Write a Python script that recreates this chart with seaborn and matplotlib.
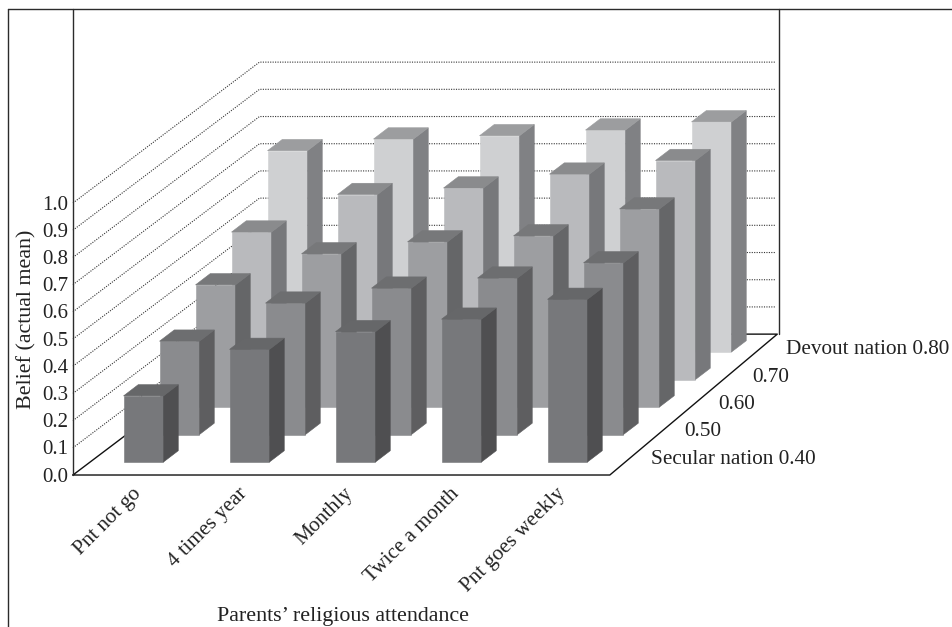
import matplotlib
matplotlib.use("Agg")
import matplotlib.pyplot as plt
import pandas as pd
import seaborn as sns
from matplotlib.patches import Polygon
from matplotlib.transforms import Affine2D

attendance = ["Pnt not go", "4 times year", "Monthly", "Twice a month", "Pnt goes weekly"]
nation_labels = ["Secular nation 0.40", "0.50", "0.60", "0.70", "Devout nation 0.80"]
axis_ticks = [0.0, 0.1, 0.2, 0.3, 0.4, 0.5, 0.6, 0.7, 0.8, 0.9, 1.0]

belief_040 = [0.243, 0.414, 0.479, 0.525, 0.598]
belief_050 = [0.343, 0.483, 0.538, 0.575, 0.631]
belief_060 = [0.449, 0.563, 0.607, 0.629, 0.728]
belief_070 = [0.542, 0.680, 0.704, 0.755, 0.805]
belief_080 = [0.740, 0.783, 0.795, 0.816, 0.846]
rows = [belief_040, belief_050, belief_060, belief_070, belief_080]

# face, side and top shades for each row, front to back
face_colors = ["#77787b", "#8a8b8e", "#9d9ea1", "#b9babd", "#cfd0d2"]
side_colors = ["#4f4f51", "#5e5e60", "#656668", "#77787b", "#808184"]
top_colors = ["#666769", "#6d6e70", "#77787a", "#8a8b8d", "#9c9d9f"]

sns.set_theme(style="white")
plt.rcParams["font.family"] = ["Liberation Serif", "DejaVu Serif"]

W, H = 952, 627
X0, Y0 = 143.5, 462.0     # pixel position of category 0, value 0, front row
CAT_PX, VAL_PX = 106.0, 272.0
ROW_DC, ROW_DZ = 36.0 / CAT_PX, 27.5 / VAL_PX   # oblique shift of one row
BAR_WIDTH, BAR_DEPTH = 0.377, 0.41

fig = plt.figure(figsize=(W / 100, H / 100), dpi=100, facecolor="white")
ax = fig.add_axes([0, 0, 1, 1])


def project(cat, val, row):
    """Oblique projection of (category, value, row) onto the axes plane."""
    return cat + row * ROW_DC, val + row * ROW_DZ


def fig_xy(px, py):
    return px / W, 1 - py / H


INK = "#2b2b2b"
TEXT = "#222222"
# floor corners as (category, row)
front_left, back_left = (-0.505, -0.473), (-0.485, 4.65)
back_right, front_right = (4.40, 4.65), (4.56, -0.473)

# dotted levels across the side wall and back wall
for level in axis_ticks[1:]:
    pts = [project(front_left[0], level, front_left[1]),
           project(back_left[0], level, back_left[1]),
           project(back_right[0] - 0.02, level, back_right[1])]
    ax.plot(*zip(*pts), color="#333333", lw=0.8, ls=(0, (1, 1.2)), zorder=1)

# floor outline
floor = [front_left, back_left, back_right, front_right, front_left]
ax.plot(*zip(*[project(c, 0, r) for c, r in floor]), color="#111111", lw=1.0, zorder=2)

# bars, back row first so nearer rows cover them
for r in range(4, -1, -1):
    z = 20 - r
    shift = Affine2D().translate(r * ROW_DC, r * ROW_DZ) + ax.transData
    table = pd.DataFrame({"attendance": attendance, "belief": rows[r]})
    sns.barplot(data=table, x="attendance", y="belief", order=attendance, ax=ax,
                color=face_colors[r], saturation=1, width=BAR_WIDTH, errorbar=None,
                edgecolor=face_colors[r], linewidth=0.4, transform=shift, zorder=z)
    for bar in ax.containers[-1]:
        x0, x1, h = bar.get_x(), bar.get_x() + bar.get_width(), bar.get_height()
        dc, dz = BAR_DEPTH * ROW_DC, BAR_DEPTH * ROW_DZ
        ax.add_patch(Polygon([(x1, 0), (x1 + dc, dz), (x1 + dc, h + dz), (x1, h)], closed=True,
                             fc=side_colors[r], ec=side_colors[r], lw=0.4, transform=shift, zorder=z))
        ax.add_patch(Polygon([(x0, h), (x1, h), (x1 + dc, h + dz), (x0 + dc, h + dz)], closed=True,
                             fc=top_colors[r], ec=top_colors[r], lw=0.4, transform=shift, zorder=z))

ax.set_xlim(-X0 / CAT_PX, (W - X0) / CAT_PX)
ax.set_ylim((Y0 - H) / VAL_PX, Y0 / VAL_PX)
ax.set_axis_off()

# frame and walls, drawn in figure space
frame_lines = [((8, 8), (9, H)), ((8, W), (9, 9)), ((73, 73), (9, 475)), ((778.5, 778.5), (9, 334))]
for xs, ys in frame_lines:
    fx, fy = zip(*[fig_xy(a, b) for a, b in zip(xs, ys)])
    fig.add_artist(plt.Line2D(fx, fy, color=INK, lw=1.0))

# value axis labels
for level in axis_ticks:
    px, py = 68.5, 477 - level * VAL_PX
    fig.text(*fig_xy(px, py), f"{level:.1f}", ha="right", va="center", fontsize=15, color=TEXT)
fig.text(*fig_xy(27, 319), "Belief (actual mean)", rotation=90, ha="center", va="center",
         fontsize=15.8, color=TEXT)

# category labels
for i, label in enumerate(attendance):
    px, py = X0 + i * CAT_PX - 12, 484
    fig.text(*fig_xy(px, py), label, rotation=45, rotation_mode="anchor", ha="right", va="top",
             fontsize=15.2, color=TEXT)
fig.text(*fig_xy(343, 616), "Parents\u2019 religious attendance", ha="center", va="center",
         fontsize=15.8, color=TEXT)

# row labels stepping along the floor edge
for r, label in enumerate(nation_labels):
    fig.text(*fig_xy(651 + 33.7 * r, 459 - 27.3 * r), label, ha="left", va="center",
             fontsize=15.3, color=TEXT)

fig.savefig("out.png", dpi=100)
